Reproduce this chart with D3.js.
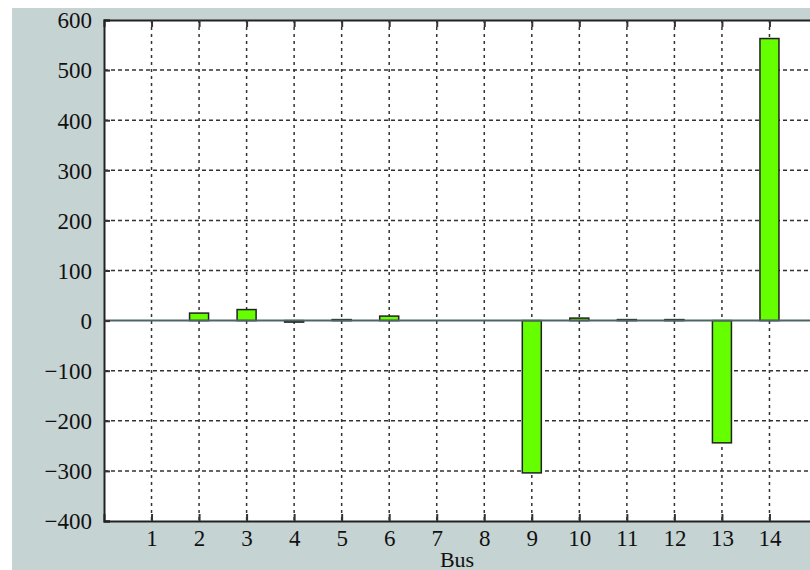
<!DOCTYPE html>
<html><head><meta charset="utf-8">
<script src="https://cdn.jsdelivr.net/npm/d3@7"></script>
<style>html,body{margin:0;padding:0;background:#fff;}svg{display:block;}
svg text{font-family:"Liberation Serif","Times New Roman",serif !important;}</style>
</head><body>
<svg id="chart" width="810" height="570"></svg>
<script>
const buses = [1,2,3,4,5,6,7,8,9,10,11,12,13,14];
const values = [0,15,22,-3,2,9,0,0,-304,5,2,2,-244,563];
const yTicks = [-400,-300,-200,-100,0,100,200,300,400,500,600];
const xLabel = "Bus";

(function(){
const svg = d3.select("#chart");
const W = 810, H = 570;
const pL = 104, pT = 20, pB = 521, pR = 817;

svg.append("rect").attr("x",12).attr("y",8).attr("width",W-12).attr("height",H-8).attr("fill","#c6d3d3");

const x = d3.scaleLinear().domain([0,15]).range([pL,pR]);
const y = d3.scaleLinear().domain([-400,600]).range([pB,pT]);

svg.append("rect").attr("x",pL).attr("y",pT).attr("width",pR-pL).attr("height",pB-pT).attr("fill","#fff");

const g = svg.append("g");
g.selectAll(".hg").data(yTicks.filter(d=>d!==0 && d!==-400 && d!==600)).enter().append("line")
  .attr("x1",pL).attr("x2",pR).attr("y1",d=>y(d)).attr("y2",d=>y(d))
  .attr("stroke","#333").attr("stroke-width",1.5).attr("stroke-dasharray","4,3");
g.selectAll(".vg").data(buses).enter().append("line")
  .attr("x1",d=>x(d)).attr("x2",d=>x(d)).attr("y1",pT).attr("y2",pB)
  .attr("stroke","#333").attr("stroke-width",1.5).attr("stroke-dasharray","3,4");

const bw = x(0.4)-x(0);
g.selectAll(".bar").data(buses).enter().append("rect")
  .attr("x",(d)=>x(d)-bw/2)
  .attr("y",(d,i)=>y(Math.max(0,values[i])))
  .attr("width",bw)
  .attr("height",(d,i)=>Math.abs(y(values[i])-y(0)))
  .attr("fill","#66ff00").attr("stroke","#222").attr("stroke-width",1.5);

g.append("line").attr("x1",pL).attr("x2",pR).attr("y1",y(0)).attr("y2",y(0))
  .attr("stroke","#4f6464").attr("stroke-width",2);

const yAxis = d3.axisLeft(y).tickValues(yTicks).tickSize(-6).tickPadding(12)
  .tickFormat(d=>d<0?"\u2212"+Math.abs(d):String(d));
const ya = svg.append("g").attr("transform",`translate(${pL},0)`).call(yAxis);
const xAxis = d3.axisBottom(x).tickValues(buses).tickSize(-7).tickPadding(9);
const xa = svg.append("g").attr("transform",`translate(0,${pB})`).call(xAxis);
const xTop = d3.axisTop(x).tickValues(buses).tickSize(-7).tickFormat("");
const xt = svg.append("g").attr("transform",`translate(0,${pT})`).call(xTop);
[ya,xa,xt].forEach(a=>{
  a.attr("font-family",null).attr("font-size",23);
  a.select(".domain").attr("stroke","#222").attr("stroke-width",2);
  a.selectAll(".tick line").attr("stroke","#333").attr("stroke-width",2);
  a.selectAll("text").style("font-size","23px").attr("fill","#111");
});
xa.selectAll("text").attr("dy","0.71em");
ya.selectAll("text").attr("dy","0.34em");

svg.append("text").attr("x",457).attr("y",567).attr("text-anchor","middle")
  .style("font-size","22px").attr("fill","#111").text(xLabel);
})();
</script>
</body></html>
